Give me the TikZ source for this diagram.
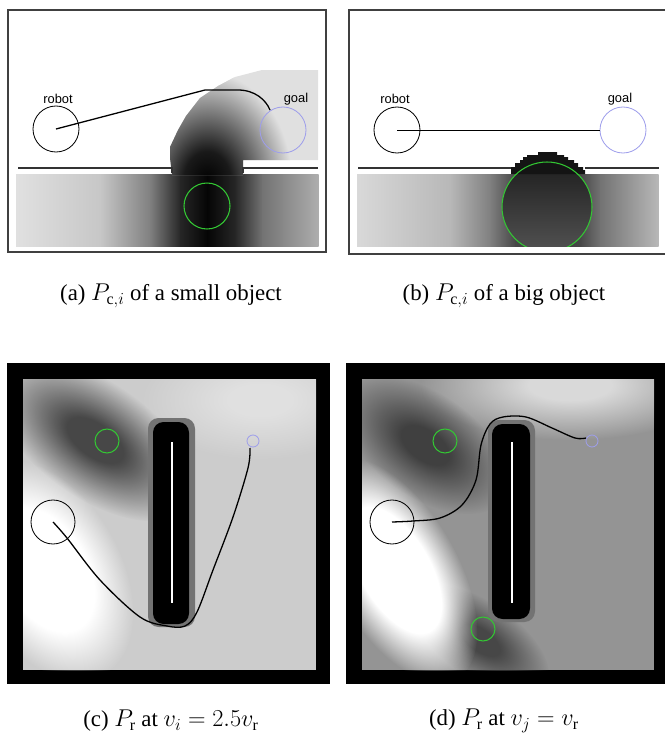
\documentclass[tikz,border=0pt]{standalone}
\usepackage{fontspec}
\setmainfont{Liberation Serif}
\newfontfamily\labelfont{Liberation Sans}
\usetikzlibrary{fadings}

\definecolor{goalblue}{rgb}{0.62,0.62,0.92}
\definecolor{objgreen}{rgb}{0.2,0.78,0.2}

% soft spot: opaque core, fades out to the edge of the path
\pgfdeclareradialshading{softshade}{\pgfpoint{0bp}{0bp}}{color(0bp)=(white); color(7bp)=(white); color(25bp)=(black); color(50bp)=(black)}
\pgfdeclarefading{softspot}{\pgfuseshading{softshade}}
% flat spot: wider opaque core
\pgfdeclareradialshading{flatshade}{\pgfpoint{0bp}{0bp}}{color(0bp)=(white); color(14bp)=(white); color(25bp)=(black); color(50bp)=(black)}
\pgfdeclarefading{flatspot}{\pgfuseshading{flatshade}}
\pgfdeclareradialshading{darkcore}{\pgfpoint{0bp}{0bp}}{color(0bp)=(black); color(7bp)=(black!90); color(25bp)=(black!12); color(50bp)=(black!12)}

\tikzset{
  frameline/.style={draw=black!75, line width=1.1pt},
  robotcirc/.style={draw=black, line width=0.7pt},
  goalcirc/.style={draw=goalblue, line width=0.7pt},
  objcirc/.style={draw=objgreen, line width=0.9pt},
  pathline/.style={draw=black, line width=1.1pt},
  wall/.style={draw=black!80, line width=1pt},
  maplabel/.style={font=\labelfont\fontsize{11}{13}\selectfont},
  subcaption/.style={font=\fontsize{19.5}{23}\selectfont},
}

\begin{document}
\begin{tikzpicture}[x=0.03cm, y=-0.03cm]
  \useasboundingbox (0,0) rectangle (665,748);

  % ====================================================
  % ROW 1: P_c,i OF A SMALL AND A BIG OBJECT
  % ====================================================

  % LEFT: small object
  \draw[frameline] (8,10) rectangle (326,252);
  \foreach \xa/\xb/\ca/\cb in {16/100/12/22, 100/150/22/50, 150/180/50/85, 180/207/85/98,
                               207/235/98/85, 235/262/85/55, 262/318/55/32}
    \shade[left color=black!\ca, right color=black!\cb] (\xa,174) rectangle (\xb+0.6,246);
  \begin{scope}
    \clip (172,175) -- (170,158) -- (170,147) -- (178,130) -- (186,116) -- (200,98)
      -- (218,86) -- (235,77) -- (262,70) -- (318,70) -- (318,160) -- (243,160)
      -- (243,175) -- cycle;
    \fill[black!12] (160,60) rectangle (320,180);
    \shade[shading=darkcore] (207,182) ellipse (85 and 110);
  \end{scope}
  \draw[wall] (18,168) -- (172,168) -- (172,173);
  \draw[wall] (243,173) -- (243,168) -- (318,168);

  \coordinate (robotA) at (56,129);
  \coordinate (goalA) at (283,130);
  \draw[robotcirc] (robotA) circle (23);
  \draw[goalcirc] (goalA) circle (23);
  \draw[objcirc] (207,206) circle (23);
  \draw[pathline] (robotA) -- (205,90) -- (238,90) .. controls (255,90) and (266,100) .. (270,110);
  \node[maplabel] (robotlabelA) at (58,99) {robot};
  \node[maplabel] (goallabelA) at (296,99) {goal};
  \node[subcaption] (capA) at (171,296) {(a) $P_{\mathrm{c},i}$ of a small object};

  % RIGHT: big object
  \draw[frameline] (349,10) rectangle (667,254);
  \foreach \xa/\xb/\ca/\cb in {357/450/15/28, 450/490/28/50, 490/515/50/72, 515/547/72/78,
                               547/580/78/72, 580/600/72/55, 600/658/55/28}
    \shade[left color=black!\ca, right color=black!\cb] (\xa,174) rectangle (\xb+0.6,246);
  \begin{scope}
    \clip (357,174) rectangle (658,246);
    \shade[top color=black!88, bottom color=black!68] (547,207) circle (45);
    \draw[objcirc] (547,207) circle (45);
  \end{scope}
  % stepped dome of the object above the wall
  \fill[black!92] (511,174) -- (511,167) -- (515,167) -- (515,163) -- (520,163) -- (520,160)
    -- (523,160) -- (523,157) -- (527,157) -- (527,155) -- (538,155) -- (538,152)
    -- (557,152) -- (557,155) -- (564,155) -- (564,157) -- (568,157) -- (568,160)
    -- (574,160) -- (574,163) -- (578,163) -- (578,167) -- (583,167) -- (583,170)
    -- (585,170) -- (585,174) -- cycle;
  \begin{scope}
    \clip (500,150) rectangle (600,174);
    \draw[objcirc] (547,207) circle (45);
  \end{scope}
  \draw[wall] (358,168) -- (511,168);
  \draw[wall] (585,168) -- (659,168);

  \coordinate (robotB) at (397,130);
  \coordinate (goalB) at (623,130);
  \draw[robotcirc] (robotB) circle (23);
  \draw[goalcirc] (goalB) circle (23);
  \draw[pathline, line width=0.8pt] (robotB) -- (600,130);
  \node[maplabel] (robotlabelB) at (395,99) {robot};
  \node[maplabel] (goallabelB) at (620,99) {goal};
  \node[subcaption] (capB) at (504,296) {(b) $P_{\mathrm{c},i}$ of a big object};

  % ====================================================
  % ROW 2: P_r AT TWO SPEEDS
  % ====================================================

  % LEFT: v_i = 2.5 v_r
  \fill[black] (7,363) rectangle (330,684);
  \begin{scope}
    \clip (23,379) rectangle (316,670);
    \fill[black!20] (23,379) rectangle (316,670);
    \fill[black!12, path fading=softspot] (260,400) ellipse (120 and 60);
    \begin{scope}[transform canvas={rotate around={-35:(95,440)}}]
      \fill[black!72, path fading=softspot] (95,440) ellipse (115 and 58);
    \end{scope}
    \begin{scope}[transform canvas={rotate around={-60:(45,570)}}]
      \fill[white, path fading=flatspot] (45,570) ellipse (120 and 75);
    \end{scope}
  \end{scope}
  \fill[black!55, rounded corners=9] (148,418) rectangle (195,627);
  \fill[black, rounded corners=9] (153,422) rectangle (189,624);
  \draw[white, line width=0.9pt] (172,442) -- (172,603);

  \coordinate (robotC) at (53,522);
  \coordinate (goalC) at (253,441);
  \draw[objcirc] (107,441) circle (12);
  \draw[goalcirc] (goalC) circle (6);
  \draw[robotcirc] (robotC) circle (22);
  \draw[pathline] plot[smooth, tension=0.55] coordinates {(robotC) (67,538) (100,580) (140,617)
    (167,626) (185,626) (197,612) (213,570) (233,517) (248,468) (250,448)};
  \node[subcaption] (capC) at (171,721) {(c) $P_{\mathrm{r}}$ at $v_i=2.5v_{\mathrm{r}}$};

  % RIGHT: v_j = v_r
  \fill[black] (346,363) rectangle (667,684);
  \begin{scope}
    \clip (362,379) rectangle (654,670);
    \fill[black!42] (362,379) rectangle (654,670);
    \fill[black!15, path fading=softspot] (570,385) ellipse (150 and 55);
    \begin{scope}[transform canvas={rotate around={-35:(425,445)}}]
      \fill[black!75, path fading=softspot] (425,445) ellipse (95 and 52);
    \end{scope}
    \begin{scope}[transform canvas={rotate around={-35:(480,640)}}]
      \fill[black!72, path fading=softspot] (480,640) ellipse (80 and 38);
    \end{scope}
    \begin{scope}[transform canvas={rotate around={-60:(395,570)}}]
      \fill[white, path fading=flatspot] (395,570) ellipse (125 and 62);
    \end{scope}
  \end{scope}
  \fill[black!55, rounded corners=9] (488,420) rectangle (535,622);
  \fill[black, rounded corners=9] (492,424) rectangle (530,619);
  \draw[white, line width=0.9pt] (512,442) -- (512,603);

  \coordinate (robotD) at (392,522);
  \coordinate (goalD) at (592,441);
  \draw[objcirc] (445,441) circle (12);
  \draw[objcirc] (483,629) circle (12);
  \draw[goalcirc] (goalD) circle (6);
  \draw[robotcirc] (robotD) circle (22);
  \draw[pathline] plot[smooth, tension=0.55] coordinates {(robotD) (413,521) (440,518) (462,505)
    (476,480) (481,445) (490,424) (503,417) (526,417) (552,428) (575,438) (586,438)};
  \node[subcaption] (capD) at (504,721) {(d) $P_{\mathrm{r}}$ at $v_j=v_{\mathrm{r}}$};
\end{tikzpicture}
\end{document}
